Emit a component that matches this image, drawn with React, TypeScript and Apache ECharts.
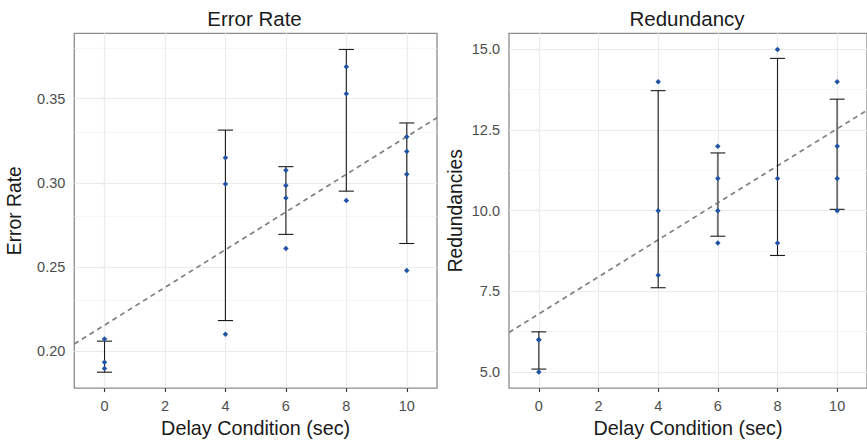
import React, { useEffect, useRef } from "react";
import * as echarts from "echarts";

// ---- data ----
const delays = [0, 4, 6, 8, 10];
const errorRateObs: number[][] = [
  [0.2071, 0.1933, 0.1896],
  [0.3149, 0.2992, 0.21],
  [0.3074, 0.2984, 0.291, 0.261],
  [0.369, 0.3529, 0.2894],
  [0.3274, 0.3186, 0.3051, 0.2478],
];
const redundancyObs: number[][] = [
  [5, 6, 6],
  [14, 10, 8],
  [12, 11, 10, 9],
  [15, 11, 9],
  [14, 12, 11, 10],
];
const xTicks = [0, 2, 4, 6, 8, 10];
const errYTicks = [0.2, 0.25, 0.3, 0.35];
const errYMinor = [0.225, 0.275, 0.325, 0.375];
const redYTicks = [5, 7.5, 10, 12.5, 15];
const redYMinor = [6.25, 8.75, 11.25, 13.75];

// ---- helpers ----
const mean = (a: number[]) => a.reduce((s, v) => s + v, 0) / a.length;
const sd = (a: number[]) => {
  const m = mean(a);
  return Math.sqrt(a.reduce((s, v) => s + (v - m) * (v - m), 0) / (a.length - 1));
};
const points = (obs: number[][]) =>
  obs.flatMap((vals, i) => vals.map((v) => [delays[i], v]));
const bars = (obs: number[][]) =>
  obs.map((vals, i) => {
    const m = mean(vals);
    const s = sd(vals);
    return [delays[i], m - s, m + s];
  });
const ols = (pts: number[][]) => {
  const xm = mean(pts.map((p) => p[0]));
  const ym = mean(pts.map((p) => p[1]));
  let sxy = 0;
  let sxx = 0;
  pts.forEach((p) => {
    sxy += (p[0] - xm) * (p[1] - ym);
    sxx += (p[0] - xm) * (p[0] - xm);
  });
  const b = sxy / sxx;
  return { a: ym - b * xm, b };
};

const greyStems = [[], [6, 10]];

export default function App() {
  const ref = useRef<HTMLDivElement>(null);
  useEffect(() => {
    if (!ref.current) return;
    const chart = echarts.init(ref.current, undefined, { renderer: "svg" });
    const font = "Liberation Sans, Arial, Helvetica, sans-serif";
    const tickColor = "#4D4D4D";
    const panels = [
      {
        obs: errorRateObs,
        title: "Error Rate",
        titleX: 249.5,
        yName: "Error Rate",
        ymin: 0.178,
        ymax: 0.3888,
        yTicks: errYTicks,
        yMinor: errYMinor,
        fmt: (v: number) => v.toFixed(2),
        left: 74.3,
        yNameGap: 50,
      },
      {
        obs: redundancyObs,
        title: "Redundancy",
        titleX: 682,
        yName: "Redundancies",
        ymin: 4.5,
        ymax: 15.5,
        yTicks: redYTicks,
        yMinor: redYMinor,
        fmt: (v: number) => v.toFixed(1),
        left: 509,
        yNameGap: 44,
      },
    ];
    const grid: any[] = [];
    const xAxis: any[] = [];
    const yAxis: any[] = [];
    const series: any[] = [];
    const title: any[] = [];
    panels.forEach((p, i) => {
      grid.push({
        left: p.left,
        top: 33.3,
        width: 362.7,
        height: 358.4,
        show: true,
        borderColor: "#8c8c8c",
        borderWidth: 1.3,
        backgroundColor: "#ffffff",
      });
      title.push({
        text: p.title,
        left: p.titleX,
        textAlign: "center",
        top: 3,
        textStyle: { fontFamily: font, fontSize: 20.5, fontWeight: "normal", color: "#1a1a1a" },
      });
      xAxis.push({
        gridIndex: i,
        type: "value",
        min: -1,
        max: 11,
        axisLine: { show: false },
        axisTick: { show: true, customValues: xTicks, length: 4, lineStyle: { color: "#333", width: 1.1 } },
        axisLabel: { customValues: xTicks, color: tickColor, fontSize: 14.5, fontFamily: font, margin: 10 },
        splitLine: { show: false },
        name: "Delay Condition (sec)",
        nameLocation: "middle",
        nameGap: 27,
        nameTextStyle: { fontFamily: font, fontSize: 19.8, color: "#1a1a1a" },
      });
      yAxis.push({
        gridIndex: i,
        type: "value",
        min: p.ymin,
        max: p.ymax,
        axisLine: { show: false },
        axisTick: { show: true, customValues: p.yTicks, length: 4, lineStyle: { color: "#333", width: 1.1 } },
        axisLabel: {
          customValues: p.yTicks,
          color: tickColor,
          fontSize: 14.5,
          fontFamily: font,
          margin: 9,
          formatter: p.fmt,
        },
        splitLine: { show: false },
        name: p.yName,
        nameLocation: "middle",
        nameGap: p.yNameGap,
        nameTextStyle: { fontFamily: font, fontSize: 19.3, color: "#1a1a1a" },
      });
      // gridlines
      series.push({
        type: "line",
        xAxisIndex: i,
        yAxisIndex: i,
        data: [],
        z: 1,
        silent: true,
        markLine: {
          z: 1,
          silent: true,
          symbol: ["none", "none"],
          label: { show: false },
          animation: false,
          data: [
            ...p.yMinor.map((v) => ({ yAxis: v, lineStyle: { color: "#F5F5F5", width: 0.8, type: "solid" } })),
            ...p.yTicks.map((v) => ({ yAxis: v, lineStyle: { color: "#EBEBEB", width: 1.2, type: "solid" } })),
            ...xTicks.map((v) => ({ xAxis: v, lineStyle: { color: "#EBEBEB", width: 1.2, type: "solid" } })),
          ],
        },
      });
      const pts = points(p.obs);
      const fit = ols(pts);
      series.push({
        type: "line",
        xAxisIndex: i,
        yAxisIndex: i,
        data: [
          [-1, fit.a - fit.b],
          [11, fit.a + 11 * fit.b],
        ],
        symbol: "none",
        z: 8,
        lineStyle: { color: "#808080", width: 1.7, type: [5, 4] },
        clip: true,
      });
      const grey = greyStems[i];
      series.push({
        type: "custom",
        xAxisIndex: i,
        yAxisIndex: i,
        z: 10,
        data: bars(p.obs),
        encode: { x: 0, y: [1, 2] },
        renderItem: (params: any, api: any) => {
          const x = api.value(0);
          const lo = api.coord([x, api.value(1)]);
          const hi = api.coord([x, api.value(2)]);
          const half = api.coord([x + 0.25, api.value(1)])[0] - lo[0];
          const isGrey = grey.indexOf(x) >= 0;
          const stem = { stroke: isGrey ? "#707070" : "#1a1a1a", lineWidth: isGrey ? 1.9 : 1.1 };
          const cap = { stroke: "#1a1a1a", lineWidth: 1.1 };
          return {
            type: "group",
            children: [
              { type: "line", shape: { x1: lo[0], y1: lo[1], x2: hi[0], y2: hi[1] }, style: stem },
              { type: "line", shape: { x1: lo[0] - half, y1: lo[1], x2: lo[0] + half, y2: lo[1] }, style: cap },
              { type: "line", shape: { x1: hi[0] - half, y1: hi[1], x2: hi[0] + half, y2: hi[1] }, style: cap },
            ],
          };
        },
      });
      series.push({
        type: "scatter",
        xAxisIndex: i,
        yAxisIndex: i,
        z: 12,
        data: pts,
        symbol: "diamond",
        symbolSize: 5.5,
        itemStyle: { color: "#2152A3", opacity: 1 },
      });
    });
    chart.setOption({
      animation: false,
      backgroundColor: "#ffffff",
      textStyle: { fontFamily: font },
      title,
      grid,
      xAxis,
      yAxis,
      series,
    });
    return () => chart.dispose();
  }, []);
  return (
    <div
      ref={ref}
      style={{ position: "fixed", left: 0, top: 0, width: 867, height: 443, background: "#fff" }}
    />
  );
}
